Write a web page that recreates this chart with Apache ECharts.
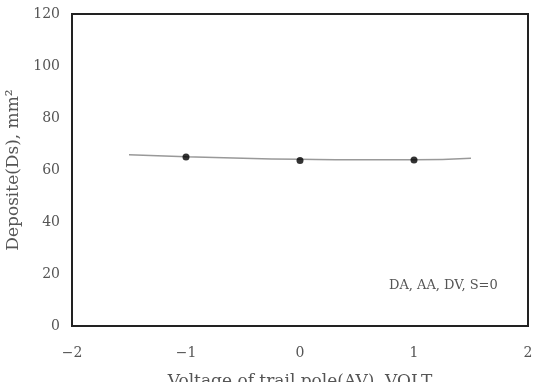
<!DOCTYPE html>
<html><head><meta charset="utf-8">
<script src="https://cdn.jsdelivr.net/npm/echarts@6/dist/echarts.min.js"></script>
<style>html,body{margin:0;padding:0;background:#fff}#c{width:543px;height:382px}</style>
</head><body><div id="c"></div>
<script>
const pointX = [-1, 0, 1];
const pointY = [65.0, 63.7, 63.8];
const trendX = [-1.5, -1, -0.5, 0, 0.5, 1, 1.5];
const trendY = [65.9, 65.1, 64.5, 64.1, 63.9, 63.9, 64.5];
const xTicks = [-2, -1, 0, 1, 2];
const yTicks = [0, 20, 40, 60, 80, 100, 120];
const noteText = 'DA, AA, DV, S=0';

const font = '"DejaVu Serif", "Liberation Serif", serif';
const chart = echarts.init(document.getElementById('c'));
chart.setOption({
  animation: false,
  grid: { left: 72, right: 15, top: 14, bottom: 56, containLabel: false, outerBoundsMode: 'none',
    show: true, borderColor: '#222', borderWidth: 2, backgroundColor: '#fff' },
  xAxis: {
    type: 'value', min: xTicks[0], max: xTicks[xTicks.length - 1], interval: 1,
    axisLine: { show: true, onZero: false, lineStyle: { color: '#222', width: 2 } },
    axisTick: { show: false }, splitLine: { show: false },
    axisLabel: { color: '#555', fontFamily: font, fontSize: 14, margin: 20,
      formatter: v => String(v).replace('-', '\u2212') },
    name: 'Voltage of trail pole(AV), VOLT', nameLocation: 'middle', nameGap: 47,
    nameTextStyle: { color: '#555', fontFamily: font, fontSize: 17 }
  },
  yAxis: {
    type: 'value', min: yTicks[0], max: yTicks[yTicks.length - 1], interval: 20,
    axisLine: { show: true, onZero: false, lineStyle: { color: '#222', width: 2 } },
    axisTick: { show: false }, splitLine: { show: false },
    axisLabel: { color: '#555', fontFamily: font, fontSize: 14, margin: 12 },
    name: 'Deposite(Ds), mm\u00b2', nameLocation: 'middle', nameGap: 41,
    nameTextStyle: { color: '#555', fontFamily: font, fontSize: 17 }
  },
  series: [
    { type: 'line', data: trendX.map((x, i) => [x, trendY[i]]), smooth: true, showSymbol: false,
      lineStyle: { color: '#999', width: 1.5 }, z: 2 },
    { type: 'scatter', data: pointX.map((x, i) => [x, pointY[i]]), symbol: 'circle', symbolSize: 7,
      itemStyle: { color: '#000' }, z: 3 }
  ],
  graphic: [{ type: 'text', left: 389, top: 279, style: { text: noteText, fill: '#555', font: '13px ' + font } }]
});
</script></body></html>
